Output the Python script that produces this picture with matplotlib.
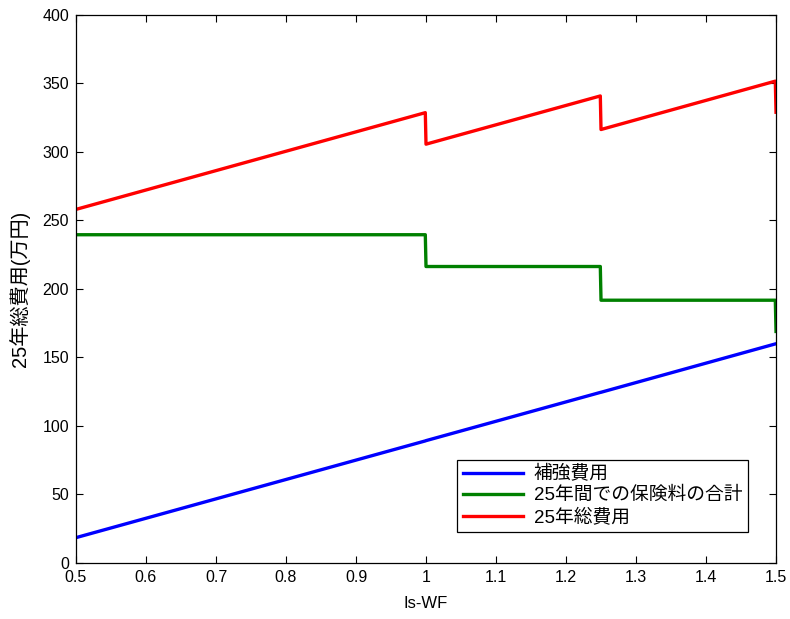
import matplotlib
matplotlib.use('Agg')
import matplotlib.pyplot as plt

plt.rcParams['font.family'] = ['Liberation Sans', 'Noto Sans CJK JP', 'DejaVu Sans']

# Is-WF と各費用（万円）
is_wf = [0.5, 0.999, 1.0, 1.249, 1.25, 1.499, 1.5]
reinforce = [18.5, 89.1, 89.3, 124.5, 124.6, 159.9, 160.0]
insurance = [239.6, 239.6, 216.4, 216.4, 191.8, 191.8, 169.0]
total = [r + i for r, i in zip(reinforce, insurance)]

labels = ['補強費用', '25年間での保険料の合計', '25年総費用']
colors = ['#0000ff', '#008000', '#ff0000']

fig = plt.figure(figsize=(7.9, 6.19), dpi=100)
ax = fig.add_axes([0.0962, 0.0905, 0.8861, 0.8853])

for ys, lbl, c in zip([reinforce, insurance, total], labels, colors):
    ax.plot(is_wf, ys, color=c, linewidth=2.4, label=lbl)

ax.set_xlim(0.5, 1.5)
ax.set_ylim(0, 400)
ax.set_xticks([0.5, 0.6, 0.7, 0.8, 0.9, 1.0, 1.1, 1.2, 1.3, 1.4, 1.5])
ax.set_xticklabels(['0.5', '0.6', '0.7', '0.8', '0.9', '1', '1.1', '1.2', '1.3', '1.4', '1.5'])
ax.set_yticks(range(0, 401, 50))
ax.tick_params(direction='in', length=5, width=0.8, top=True, right=True,
               labelsize=11.5, pad=5)
for sp in ax.spines.values():
    sp.set_linewidth(0.9)

ax.set_xlabel('Is-WF', fontsize=12, labelpad=8)
ax.set_ylabel('25年総費用(万円)', fontsize=14.5, labelpad=9)

leg = ax.legend(loc='lower right', bbox_to_anchor=(0.96, 0.057), borderaxespad=0,
                fontsize=13.5, fancybox=False, edgecolor='black', framealpha=1,
                handlelength=3.2, handletextpad=0.6, borderpad=0.3, labelspacing=0.2)
leg.get_frame().set_linewidth(0.9)

fig.savefig('out.png', dpi=100, facecolor='white')
